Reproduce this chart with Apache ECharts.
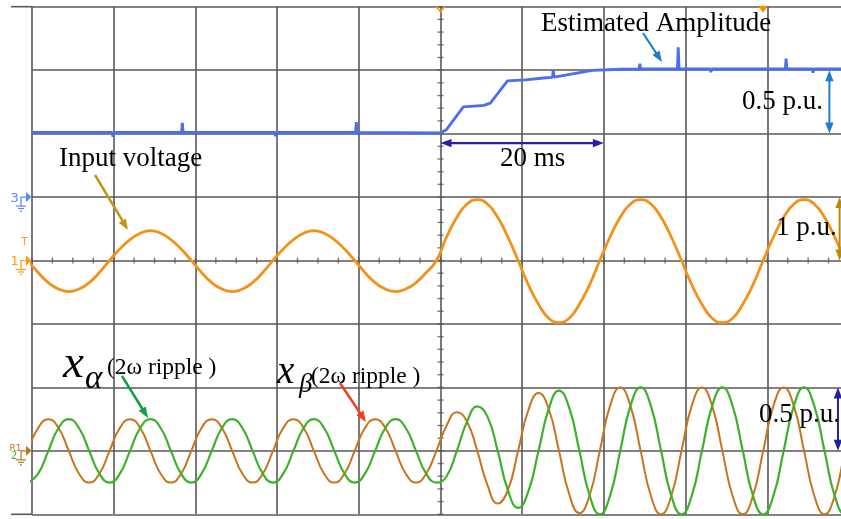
<!DOCTYPE html>
<html>
<head>
<meta charset="utf-8">
<script src="https://cdn.jsdelivr.net/npm/echarts@6/dist/echarts.min.js"></script>
<style>
  html, body { margin: 0; padding: 0; background: #ffffff; }
  #scope { width: 841px; height: 519px; }
</style>
</head>
<body>
<div id="scope"></div>
<script>
// Sample instants (ms, trigger at 0), 1.25 ms apart
const timeMs = [
  -50.5, -49.25, -48, -46.75, -45.5, -44.25, -43, -41.75,
  -40.5, -39.25, -38, -36.75, -35.5, -34.25, -33, -31.75,
  -30.5, -29.25, -28, -26.75, -25.5, -24.25, -23, -21.75,
  -20.5, -19.25, -18, -16.75, -15.5, -14.25, -13, -11.75,
  -10.5, -9.25, -8, -6.75, -5.5, -4.25, -3, -1.75,
  -0.5, 0.75, 2, 3.25, 4.5, 5.75, 7, 8.25,
  9.5, 10.75, 12, 13.25, 14.5, 15.75, 17, 18.25,
  19.5, 20.75, 22, 23.25, 24.5, 25.75, 27, 28.25,
  29.5, 30.75, 32, 33.25, 34.5, 35.75, 37, 38.25,
  39.5, 40.75, 42, 43.25, 44.5, 45.75, 47, 48.25,
  49.5, 50.75
];

// Input voltage, p.u. (amplitude steps from 0.5 to 1 p.u. at t = 0)
const inputVoltage = [
  0, -0.19, -0.35, -0.45, -0.49, -0.45, -0.35, -0.19,
  0, 0.18, 0.33, 0.43, 0.47, 0.43, 0.33, 0.18,
  0, -0.19, -0.35, -0.45, -0.49, -0.45, -0.35, -0.19,
  0, 0.18, 0.33, 0.43, 0.47, 0.43, 0.33, 0.18,
  0, -0.19, -0.35, -0.45, -0.49, -0.45, -0.35, -0.19,
  0, 0.37, 0.68, 0.89, 0.96, 0.89, 0.68, 0.37,
  0, -0.38, -0.69, -0.91, -0.98, -0.91, -0.69, -0.38,
  0, 0.37, 0.68, 0.89, 0.96, 0.89, 0.68, 0.37,
  0, -0.38, -0.69, -0.91, -0.98, -0.91, -0.69, -0.38,
  0, 0.37, 0.68, 0.89, 0.96, 0.89, 0.68, 0.37,
  0, -0.38
];

// x_alpha, 2-omega ripple component, p.u.
const xAlpha = [
  -0.25, -0.18, 0, 0.18, 0.25, 0.18, 0, -0.18,
  -0.25, -0.18, 0, 0.18, 0.25, 0.18, 0, -0.18,
  -0.25, -0.18, 0, 0.18, 0.25, 0.18, 0, -0.18,
  -0.25, -0.18, 0, 0.18, 0.25, 0.18, 0, -0.18,
  -0.25, -0.18, 0, 0.18, 0.25, 0.18, 0, -0.18,
  -0.25, -0.2, 0, 0.23, 0.35, 0.27, 0, -0.31,
  -0.45, -0.32, 0, 0.33, 0.475, 0.34, 0, -0.35,
  -0.5, -0.354, 0, 0.354, 0.5, 0.354, 0, -0.354,
  -0.5, -0.354, 0, 0.354, 0.5, 0.354, 0, -0.354,
  -0.5, -0.354, 0, 0.354, 0.5, 0.354, 0, -0.354,
  -0.5, -0.354
];

// x_beta, 2-omega ripple component, p.u.
const xBeta = [
  0, 0.18, 0.25, 0.18, 0, -0.18, -0.25, -0.18,
  0, 0.18, 0.25, 0.18, 0, -0.18, -0.25, -0.18,
  0, 0.18, 0.25, 0.18, 0, -0.18, -0.25, -0.18,
  0, 0.18, 0.25, 0.18, 0, -0.18, -0.25, -0.18,
  0, 0.18, 0.25, 0.18, 0, -0.18, -0.25, -0.18,
  0, 0.2, 0.305, 0.23, 0, -0.27, -0.415, -0.31,
  0, 0.32, 0.455, 0.33, 0, -0.34, -0.49, -0.35,
  0, 0.354, 0.5, 0.354, 0, -0.354, -0.5, -0.354,
  0, 0.354, 0.5, 0.354, 0, -0.354, -0.5, -0.354,
  0, 0.354, 0.5, 0.354, 0, -0.354, -0.5, -0.354,
  0, 0.354
];

// Estimated amplitude, [ms, p.u.], including the sampling glitches
const estimatedAmplitude = [
  [-50, 0.51], [-40.2, 0.51], [-40.1, 0.475], [-40.0, 0.51],
  [-31.7, 0.51], [-31.6, 0.585], [-31.5, 0.51],
  [-20.3, 0.51], [-20.2, 0.48], [-20.1, 0.51],
  [-10.4, 0.51], [-10.3, 0.59], [-10.2, 0.51],
  [0, 0.505], [0.7, 0.53], [2.8, 0.71], [3.7, 0.715], [5.3, 0.722], [6.1, 0.74],
  [8.2, 0.916], [10.4, 0.924], [12.9, 0.94], [13.7, 0.943], [13.8, 1.0], [13.9, 0.945],
  [15.3, 0.96], [17.2, 0.983], [18.6, 0.999], [22.1, 1.007],
  [24.3, 1.01], [24.4, 1.05], [24.5, 1.01],
  [29.0, 1.01], [29.1, 1.18], [29.2, 1.01],
  [33.0, 1.01], [33.1, 0.985], [33.2, 1.01],
  [42.2, 1.01], [42.3, 1.09], [42.4, 1.01],
  [45.5, 1.01], [45.6, 0.98], [45.7, 1.01],
  [50, 1.01]
];

// Channel ground level (divisions from centre) and vertical scale
const CH_INPUT = { offset: 0, puPerDiv: 1 };
const CH_AMPL = { offset: 1, puPerDiv: 0.5 };
const CH_RIPPLE = { offset: -3, puPerDiv: 0.5 };
const toDiv = (ch, v) => ch.offset + v / ch.puPerDiv;

const GRID_COLOR = '#585858';
const SERIF = '"Liberation Serif", "Times New Roman", serif';

// Minor graticule ticks along the centre lines
const hTicks = [];
for (let t = -50; t <= 50.001; t += 2.5) hTicks.push([t, 0]);
const vTicks = [];
for (let i = -20; i <= 20; i++) vTicks.push([0, i / 5]);

const axisCommon = {
  type: 'value',
  axisLine: { show: false },
  axisTick: { show: false },
  axisLabel: { show: false },
  splitLine: { show: true, lineStyle: { color: GRID_COLOR, width: 1.6 } }
};

const option = {
  animation: false,
  backgroundColor: '#ffffff',
  grid: { left: 32, top: 6.7, width: 817, height: 507.6, outerBoundsMode: 'none' },
  xAxis: Object.assign({ min: -50, max: 50, interval: 10 }, axisCommon),
  yAxis: Object.assign({ min: -4, max: 4, interval: 1 }, axisCommon),
  series: [
    {
      type: 'scatter', silent: true, data: hTicks, symbol: 'rect',
      symbolSize: [1.4, 6], itemStyle: { color: GRID_COLOR }, z: 1
    },
    {
      type: 'scatter', silent: true, data: vTicks, symbol: 'rect',
      symbolSize: [6, 1.4], itemStyle: { color: GRID_COLOR }, z: 1
    },
    {
      name: 'x_beta', type: 'line', silent: true, symbol: 'none', smooth: true,
      data: timeMs.map((t, i) => [t, toDiv(CH_RIPPLE, xBeta[i])]),
      lineStyle: { color: '#c8741f', width: 2 }, z: 3
    },
    {
      name: 'x_alpha', type: 'line', silent: true, symbol: 'none', smooth: true,
      data: timeMs.map((t, i) => [t, toDiv(CH_RIPPLE, xAlpha[i])]),
      lineStyle: { color: '#3cb22a', width: 2.2 }, z: 4
    },
    {
      name: 'Input voltage', type: 'line', silent: true, symbol: 'none', smooth: true,
      data: timeMs.map((t, i) => [t, toDiv(CH_INPUT, inputVoltage[i])]),
      lineStyle: { color: '#f2921a', width: 2.8 }, z: 4
    },
    {
      name: 'Estimated Amplitude', type: 'line', silent: true, symbol: 'none',
      data: estimatedAmplitude.map(p => [p[0], toDiv(CH_AMPL, p[1])]),
      lineStyle: { color: '#4a6ef0', width: 2.8 }, z: 4
    }
  ]
};

const chart = echarts.init(document.getElementById('scope'), null, { renderer: 'canvas' });
chart.setOption(option);

const px = (t, d) => chart.convertToPixel({ gridIndex: 0 }, [t, d]);

function seg(x1, y1, x2, y2, color, w) {
  return { type: 'line', silent: true, z: 100, shape: { x1, y1, x2, y2 }, style: { stroke: color, lineWidth: w } };
}

function arrow(a, b, color, width, both) {
  const [x0, y0] = a, [x1, y1] = b;
  const ang = Math.atan2(y1 - y0, x1 - x0);
  const L = 11, W = 4.2, c = Math.cos(ang), s = Math.sin(ang);
  const head = (x, y, dir) => ({
    type: 'polygon', silent: true, z: 101,
    shape: { points: [[x, y],
      [x - dir * L * c - W * s, y - dir * L * s + W * c],
      [x - dir * L * c + W * s, y - dir * L * s - W * c]] },
    style: { fill: color }
  });
  const sx = both ? x0 + L * 0.8 * c : x0, sy = both ? y0 + L * 0.8 * s : y0;
  const out = [seg(sx, sy, x1 - L * 0.8 * c, y1 - L * 0.8 * s, color, width), head(x1, y1, 1)];
  if (both) out.push(head(x0, y0, -1));
  return out;
}

function txt(str, x, baseline, size, opt) {
  opt = opt || {};
  return {
    type: 'text', silent: true, z: 102,
    style: {
      text: str, x: x, y: baseline - 0.27 * size,
      font: (opt.italic ? 'italic ' : '') + size + 'px ' + (opt.family || SERIF),
      fill: opt.color || '#000000', align: 'left', verticalAlign: 'middle'
    }
  };
}

function groundMarker(y, color) {
  return [
    { type: 'polygon', silent: true, z: 100, shape: { points: [[26, y - 5], [31.5, y], [26, y + 5]] }, style: { fill: color } },
    { type: 'polyline', silent: true, z: 100, shape: { points: [[26, y], [21, y], [21, y + 9]] }, style: { stroke: color, lineWidth: 1.2, fill: null } },
    seg(16, y + 9, 26, y + 9, color, 1.2),
    seg(18, y + 11.5, 24, y + 11.5, color, 1.2),
    seg(20, y + 14, 22, y + 14, color, 1.2)
  ];
}

const g = [];
// screen frame extends left of the graticule
const [xl, yTop] = px(-50, 4);
const [, yBot] = px(-50, -4);
g.push(seg(11, yTop, xl, yTop, GRID_COLOR, 1.6), seg(11, yBot, xl, yBot, GRID_COLOR, 1.6));

// trigger-position marks on the top edge
const [x0] = px(0, 4);
g.push({ type: 'polyline', silent: true, z: 100, shape: { points: [[x0 - 4.5, yTop - 0.5], [x0, yTop + 5], [x0 + 4.5, yTop - 0.5]] }, style: { stroke: '#ff9410', lineWidth: 1.6, fill: null } });
g.push({ type: 'polygon', silent: true, z: 100, shape: { points: [[758, yTop - 1], [768, yTop - 1], [763, yTop + 6]] }, style: { fill: '#ff8c00' } });

// channel ground markers on the left
const [, yCh3] = px(-50, CH_AMPL.offset);
const [, yCh1] = px(-50, CH_INPUT.offset);
const [, yCh2] = px(-50, CH_RIPPLE.offset);
const SANS = '"DejaVu Sans", sans-serif';
g.push(...groundMarker(yCh3, '#5d84ff'), txt('3', 10.5, yCh3 + 5, 13, { family: SANS, color: '#5d84ff' }));
g.push(...groundMarker(yCh1, '#ff9a12'), txt('1', 10.5, yCh1 + 5, 13, { family: SANS, color: '#ff9a12' }));
g.push(txt('T', 21.5, yCh1 - 15, 10, { family: SANS, color: '#ff9a12' }));
g.push(...groundMarker(yCh2, '#c0701e'), txt('R1', 9.5, yCh2, 9, { family: SANS, color: '#c0701e' }));
g.push(txt('2', 11, yCh2 + 8.5, 10, { family: SANS, color: '#3cb43c' }));

// measurement arrows
g.push(...arrow(px(0, 1.85), px(20, 1.85), '#2a1f9e', 2.4, true));
g.push(...arrow(px(47.6, 3), px(47.6, 2), '#1b7fcf', 2, true));
g.push(...arrow(px(48.85, 1), px(48.85, 0), '#b88a0c', 2, true));
g.push(...arrow(px(48.65, -2), px(48.65, -3), '#2020a0', 2, true));

// pointer arrows
g.push(...arrow([643, 33], [662, 62], '#1a7cc8', 2, false));
g.push(...arrow([95, 175], [128, 230], '#c39512', 2.5, false));
g.push(...arrow([122, 376], [148, 418], '#12a04a', 2.5, false));
g.push(...arrow([340, 383], [366, 422], '#f0401c', 2.5, false));

// labels
g.push(txt('Estimated Amplitude', 541, 31, 27));
g.push(txt('0.5 p.u.', 742, 109, 27));
g.push(txt('20 ms', 500, 166, 27));
g.push(txt('Input voltage', 59, 166, 27));
g.push(txt('1 p.u.', 776, 235, 27));
g.push(txt('0.5 p.u.', 759, 422, 27));
g.push(txt('x', 63, 377, 47, { italic: true }));
g.push(txt('\u03b1', 85, 388, 33, { italic: true }));
g.push(txt('(2\u03c9 ripple )', 107, 374, 23.5));
g.push(txt('x', 277, 383, 39, { italic: true }));
g.push(txt('\u03b2', 299, 392, 27, { italic: true }));
g.push(txt('(2\u03c9 ripple )', 311, 383, 23.5));

chart.setOption({ graphic: { elements: g } });
</script>
</body>
</html>
